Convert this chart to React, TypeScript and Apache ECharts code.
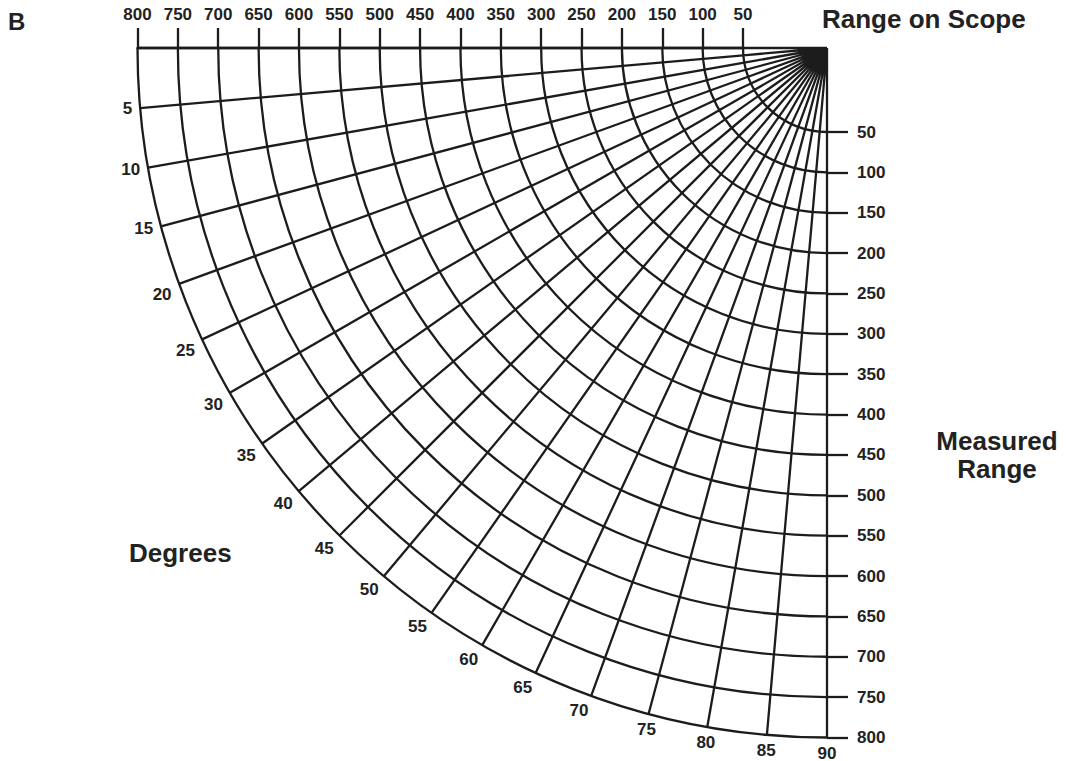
import React, { useEffect, useRef } from "react";
import * as echarts from "echarts";

// ---- data: scales and tick labels ----
const rangeValues = [50, 100, 150, 200, 250, 300, 350, 400, 450, 500, 550, 600, 650, 700, 750, 800];
const rangeLabels = ["50", "100", "150", "200", "250", "300", "350", "400", "450", "500", "550", "600", "650", "700", "750", "800"];
const degreeValues = [0, 5, 10, 15, 20, 25, 30, 35, 40, 45, 50, 55, 60, 65, 70, 75, 80, 85, 90];
const degreeLabels = ["", "5", "10", "15", "20", "25", "30", "35", "40", "45", "50", "55", "60", "65", "70", "75", "80", "85", "90"];
const titles = {
  panel: "B",
  scope: "Range on Scope",
  measured: "Measured\nRange",
  degrees: "Degrees",
};

const CENTER = [827, 48];
const INNER = 84;
const OUTER = 689.5;
const LINE = "#1c1c1c";
const TEXT = "#222222";
const FONT = '"Liberation Sans", Arial, Helvetica, sans-serif';

const lineStyle = { color: LINE, width: 2.3 };

const rangeLabelOf = (v: number) => {
  const i = rangeValues.indexOf(v);
  return i >= 0 ? rangeLabels[i] : "";
};
const degreeLabelOf = (v: number) => {
  const i = degreeValues.indexOf(v);
  return i >= 0 ? degreeLabels[i] : "";
};

export default function App() {
  const ref = useRef<HTMLDivElement>(null);

  useEffect(() => {
    if (!ref.current) return;
    const chart = echarts.init(ref.current, undefined, { renderer: "svg" });
    const rMin = rangeValues[0];
    const rMax = rangeValues[rangeValues.length - 1];
    const rStep = rangeValues[1] - rangeValues[0];
    const dMin = degreeValues[0];
    const dMax = degreeValues[degreeValues.length - 1];
    const dStep = degreeValues[1] - degreeValues[0];

    const labelFont = {
      color: TEXT,
      fontSize: 17,
      fontWeight: "bold" as const,
      fontFamily: FONT,
    };

    const option: any = {
      animation: false,
      backgroundColor: "#ffffff",
      polar: [
        { center: CENTER, radius: [INNER, OUTER] },
        { center: CENTER, radius: [0, INNER] },
        { center: CENTER, radius: [INNER, OUTER] },
      ],
      angleAxis: [
        {
          polarIndex: 0,
          type: "value",
          min: dMin,
          max: dMax,
          interval: dStep,
          startAngle: 180,
          endAngle: 270,
          clockwise: false,
          axisLine: { show: false },
          axisTick: { show: false },
          splitLine: { show: true, lineStyle },
          axisLabel: {
            show: true,
            margin: 8,
            lineHeight: 15,
            ...labelFont,
            formatter: (v: number) => degreeLabelOf(v),
          },
        },
        {
          polarIndex: 1,
          type: "value",
          min: dMin,
          max: dMax,
          interval: dStep,
          startAngle: 180,
          endAngle: 270,
          clockwise: false,
          axisLine: { show: false },
          axisTick: { show: false },
          axisLabel: { show: false },
          splitLine: { show: true, lineStyle },
        },
        {
          polarIndex: 2,
          type: "value",
          min: dMin,
          max: dMax,
          interval: dStep,
          startAngle: 270,
          endAngle: 180,
          clockwise: true,
          show: false,
          axisLine: { show: false },
          axisTick: { show: false },
          axisLabel: { show: false },
          splitLine: { show: false },
        },
      ],
      radiusAxis: [
        {
          polarIndex: 0,
          type: "value",
          min: rMin,
          max: rMax,
          interval: rStep,
          axisLine: { show: true, lineStyle },
          axisTick: { show: true, length: -20, lineStyle },
          axisLabel: {
            show: true,
            margin: -25,
            verticalAlign: "bottom",
            align: "center",
            ...labelFont,
            formatter: (v: number) => rangeLabelOf(v),
          },
          splitLine: { show: true, lineStyle },
          splitArea: { show: false },
        },
        {
          polarIndex: 1,
          type: "value",
          min: 0,
          max: 1,
          show: false,
          splitLine: { show: false },
        },
        {
          polarIndex: 2,
          type: "value",
          min: rMin,
          max: rMax,
          interval: rStep,
          axisLine: { show: false },
          axisTick: { show: true, length: 21, lineStyle },
          axisLabel: {
            show: true,
            margin: 30,
            ...labelFont,
            formatter: (v: number) => rangeLabelOf(v),
          },
          splitLine: { show: false },
          splitArea: { show: false },
        },
      ],
      graphic: [
        {
          type: "text",
          x: 8,
          y: 21.5,
          style: { text: titles.panel, fill: TEXT, font: `bold 24px ${FONT}`, verticalAlign: "middle", align: "left" },
        },
        {
          type: "text",
          x: 822,
          y: 19,
          style: { text: titles.scope, fill: TEXT, font: `bold 26px ${FONT}`, verticalAlign: "middle", align: "left" },
        },
        {
          type: "text",
          x: 997,
          y: 454.5,
          style: {
            text: titles.measured,
            fill: TEXT,
            font: `bold 26px ${FONT}`,
            lineHeight: 28,
            verticalAlign: "middle",
            align: "center",
          },
        },
        {
          type: "text",
          x: 129,
          y: 552.5,
          style: { text: titles.degrees, fill: TEXT, font: `bold 26px ${FONT}`, verticalAlign: "middle", align: "left" },
        },
      ],
      series: [],
    };

    chart.setOption(option);
    return () => chart.dispose();
  }, []);

  return (
    <div
      ref={ref}
      style={{ position: "fixed", left: 0, top: 0, width: 1066, height: 761, background: "#fff" }}
    />
  );
}
